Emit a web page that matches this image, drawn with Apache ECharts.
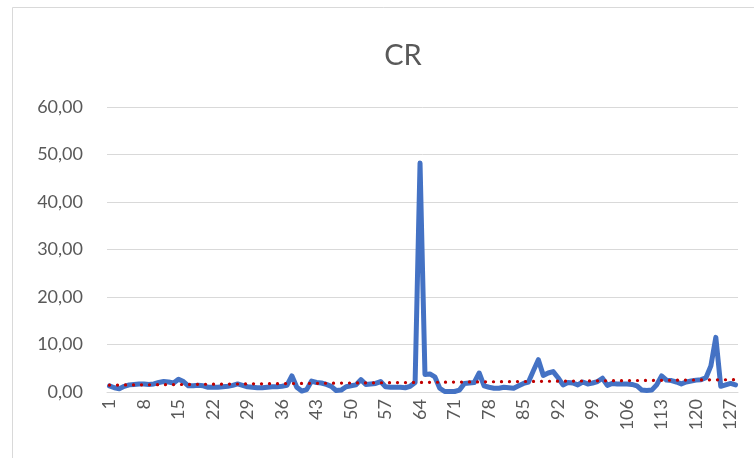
<!DOCTYPE html>
<html>
<head>
<meta charset="utf-8">
<script src="https://cdn.jsdelivr.net/npm/echarts@6/dist/echarts.min.js"></script>
<style>
  html, body { margin: 0; padding: 0; background: #fff; }
  #chart { width: 754px; height: 458px; }
</style>
</head>
<body>
<div id="chart"></div>
<script>
// categories 1..128
const categories = [];
for (let i = 1; i <= 128; i++) categories.push(String(i));

// CR values
const crValues = [
  1.3, 0.9, 0.7, 1.2, 1.5, 1.6, 1.7, 1.7, 1.6, 1.7,
  2.0, 2.2, 2.1, 1.9, 2.7, 2.2, 1.3, 1.3, 1.4, 1.3,
  1.0, 1.0, 1.0, 1.1, 1.2, 1.4, 1.7, 1.4, 1.1, 1.0,
  0.9, 0.9, 1.0, 1.1, 1.1, 1.2, 1.4, 3.4, 1.0, 0.2,
  0.5, 2.3, 2.0, 1.9, 1.6, 1.2, 0.3, 0.4, 1.1, 1.3,
  1.5, 2.6, 1.6, 1.7, 1.8, 2.2, 1.1, 1.0, 1.0, 1.0,
  0.9, 1.2, 2.0, 48.2, 3.7, 3.8, 3.2, 0.8, 0.1, 0.1,
  0.1, 0.4, 1.8, 1.9, 2.0, 4.0, 1.3, 1.0, 0.8, 0.8,
  1.0, 0.9, 0.8, 1.3, 1.8, 2.1, 4.5, 6.8, 3.5, 4.0,
  4.3, 3.0, 1.5, 2.0, 1.9, 1.5, 2.1, 1.7, 1.9, 2.2,
  2.9, 1.4, 1.8, 1.7, 1.7, 1.7, 1.6, 1.3, 0.4, 0.3,
  0.4, 1.5, 3.4, 2.5, 2.4, 2.1, 1.7, 2.1, 2.3, 2.5,
  2.6, 3.0, 5.5, 11.5, 1.2, 1.5, 1.8, 1.5
];

// linear trendline end points
const trendStart = 1.45;
const trendEnd = 2.6;

const yLabels = ['0,00', '10,00', '20,00', '30,00', '40,00', '50,00', '60,00'];

const chart = echarts.init(document.getElementById('chart'));
chart.setOption({
  backgroundColor: '#fff',
  animation: false,
  graphic: [{
    type: 'rect',
    shape: { x: 12.5, y: 7.5, width: 900, height: 600 },
    style: { fill: 'none', stroke: '#d9d9d9', lineWidth: 1 },
    silent: true
  }],
  title: {
    text: 'CR',
    left: 398,
    textAlign: 'center',
    top: 36,
    textStyle: {
      color: '#595959',
      fontFamily: 'Lato',
      fontWeight: 'normal',
      fontSize: 29
    }
  },
  grid: {
    left: 107,
    right: 16,
    top: 107,
    bottom: 66,
    containLabel: false
  },
  xAxis: {
    type: 'category',
    data: categories,
    boundaryGap: true,
    axisTick: { show: false },
    axisLine: { show: true, lineStyle: { color: '#d9d9d9', width: 1 } },
    axisLabel: {
      interval: 6,
      rotate: 90,
      margin: 7,
      color: '#595959',
      fontFamily: 'Lato',
      fontSize: 18
    }
  },
  yAxis: {
    type: 'value',
    min: 0,
    max: 60,
    interval: 10,
    axisLine: { show: false },
    axisTick: { show: false },
    axisLabel: {
      margin: 24,
      color: '#595959',
      fontFamily: 'Lato',
      fontSize: 18,
      formatter: function (v) { return yLabels[Math.round(v / 10)]; }
    },
    splitLine: { lineStyle: { color: '#d9d9d9', width: 1 } }
  },
  series: [{
    name: 'CR',
    type: 'line',
    data: crValues,
    symbol: 'none',
    lineStyle: { color: '#4472C4', width: 5, join: 'round', cap: 'round' },
    itemStyle: { color: '#4472C4' },
    markLine: {
      silent: true,
      symbol: 'none',
      label: { show: false },
      lineStyle: { color: '#C00000', width: 3.2, type: [0.1, 7.9], cap: 'round' },
      data: [[
        { coord: [categories[0], trendStart] },
        { coord: [categories[categories.length - 1], trendEnd] }
      ]]
    }
  }]
});
</script>
</body>
</html>
